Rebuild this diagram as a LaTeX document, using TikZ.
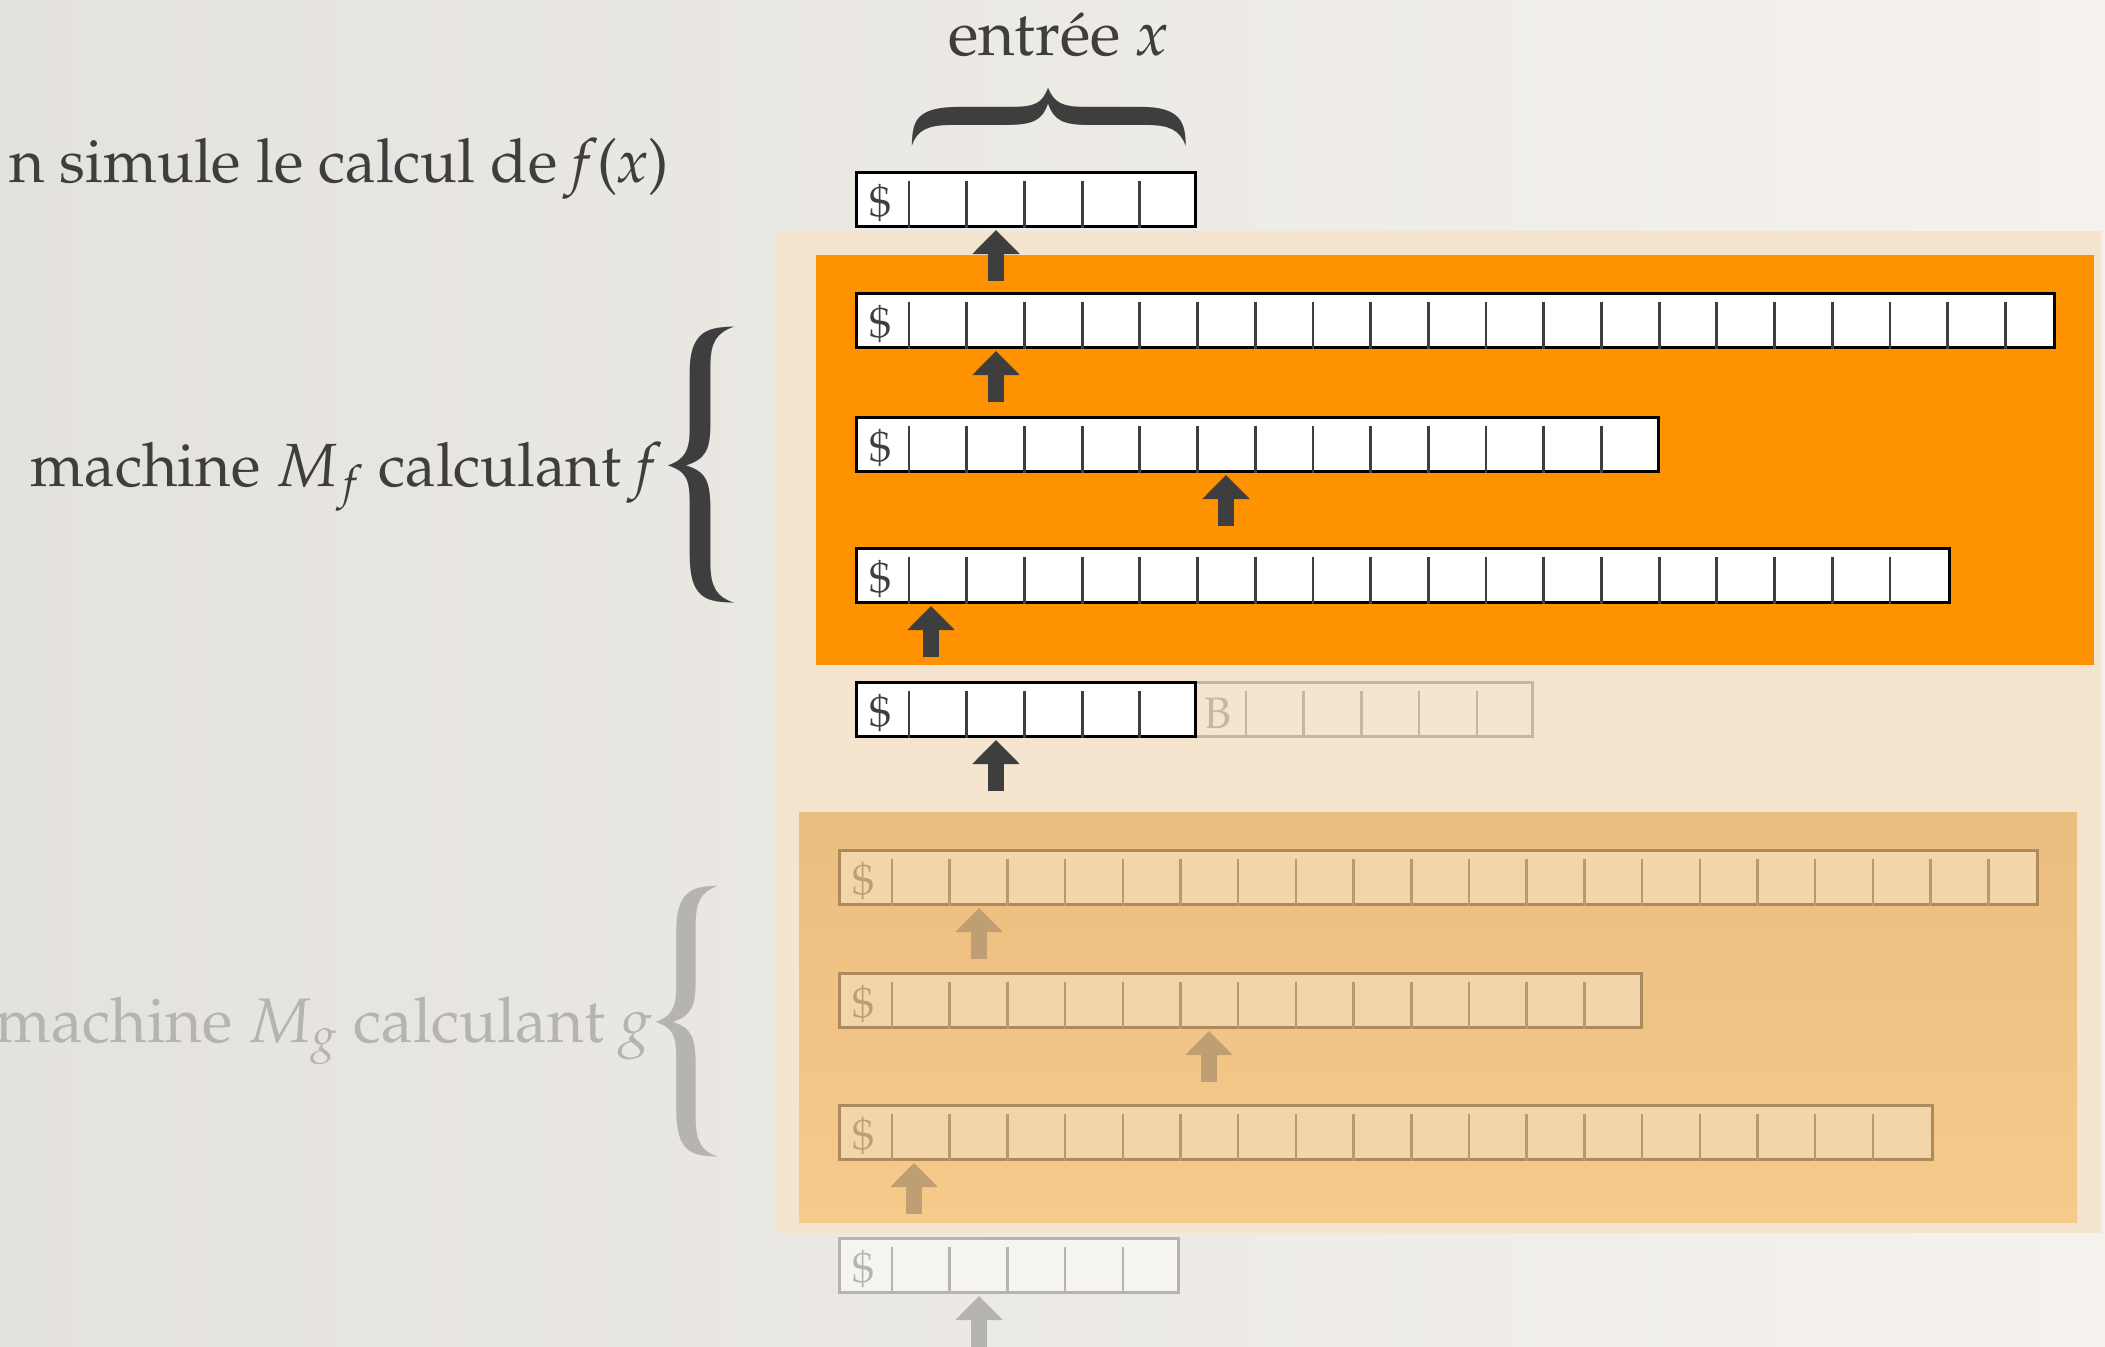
\documentclass[tikz,border=0pt]{standalone}
\usepackage[T1]{fontenc}
\usepackage{mathpazo}
\usepackage{tikz}
\usetikzlibrary{calc,arrows.meta,positioning}
\definecolor{ink}{RGB}{62,62,62}
\definecolor{paperL}{RGB}{228,226,222}
\definecolor{paperR}{RGB}{245,242,237}
\definecolor{peachT}{RGB}{245,229,207}
\definecolor{peachM}{RGB}{229,211,186}
\definecolor{simorange}{RGB}{255,146,0}
\definecolor{fadeT}{RGB}{235,190,127}
\definecolor{fadeB}{RGB}{246,202,138}
\definecolor{fadetape}{RGB}{242,213,168}
\definecolor{fadeline}{RGB}{172,138,94}
\definecolor{fadehead}{RGB}{190,158,114}
\definecolor{ghost}{RGB}{182,180,177}
\definecolor{ghostfill}{RGB}{245,244,241}
\definecolor{blank}{RGB}{196,183,166}
\newcommand\bigfont{\fontsize{61}{68}\selectfont}
\tikzstyle{tapebox}=[draw=black, line width=3pt, fill=white]
\tikzstyle{cellsep}=[draw=ink, line width=2.8pt]
\tikzstyle{dollar}=[text=ink, inner sep=0pt, font=\fontsize{44}{44}\selectfont]
\tikzstyle{tapehead}=[draw=ink, line width=15.5pt, -{Triangle[width=46pt,length=24pt]}]
\tikzstyle{label}=[text=ink, inner sep=0pt, font=\bigfont]
% name, left, top, right, number of cells after the $
\newcommand\tape[5]{%
  \coordinate (#1) at (#2,#3+54);
  \draw[tapebox] (#2,#3) rectangle (#4,#3+54);
  \foreach \k in {1,...,#5}
    \draw[cellsep] ({#2+53+(\k-1)*57.7},#3+8.5) -- ++(0,47.5);
  \node[dollar] (#1-dol) at (#2+24,#3+31) {\$};
}
% head of a tape, x offset from the left end
\newcommand\headunder[2]{\draw[tapehead] ([shift={(#2,55)}]#1) -- ([shift={(#2,4)}]#1);}

\begin{document}
\begin{tikzpicture}[x=1pt,y=-1pt]
  \useasboundingbox (0,0) rectangle (2105,1347);
  \clip (0,0) rectangle (2105,1347);
  \shade[left color=paperL, right color=paperR] (0,0) rectangle (2105,1347);

  % blocks
  \shade[top color=peachT, middle color=peachM, bottom color=peachT] (776,231) rectangle (2101,1232);
  \fill[simorange] (816,255) rectangle (2094,665);
  \shade[top color=fadeT, bottom color=fadeB] (799,812) rectangle (2077,1222);

  % input and M_f
  \tape{tin}{856}{172}{1195}{5}
  \headunder{tin}{140}
  \tape{ta}{856}{293}{2054}{20}
  \headunder{ta}{140}
  \tape{tb}{856}{417}{1658}{13}
  \headunder{tb}{370}
  \tape{tc}{856}{548}{1949}{18}
  \headunder{tc}{75}
  \draw[draw=blank, line width=3pt] (1195,682) rectangle (1532,736);
  \foreach \k in {1,...,5}
    \draw[draw=blank, line width=2.5pt] ({1246+(\k-1)*57.7},690.5) -- ++(0,47.5);
  \node[text=blank, inner sep=0pt, font=\fontsize{44}{44}\selectfont] (blankB) at (1218,713) {B};
  \tape{td}{856}{682}{1195}{5}
  \headunder{td}{140}

  % M_g, faded
  \begin{scope}[tapebox/.style={draw=fadeline, line width=3pt, fill=fadetape},
      cellsep/.style={draw=fadeline!80!fadetape, line width=2.5pt},
      dollar/.style={text=fadehead, inner sep=0pt, font=\fontsize{44}{44}\selectfont},
      tapehead/.style={draw=fadehead, line width=15.5pt, -{Triangle[width=46pt,length=24pt]}}]
    \tape{te}{839}{850}{2037}{20}
    \headunder{te}{140}
    \tape{tf}{839}{973}{1641}{13}
    \headunder{tf}{370}
    \tape{tg}{839}{1105}{1932}{18}
    \headunder{tg}{75}
  \end{scope}
  \begin{scope}[tapebox/.style={draw=ghost, line width=3pt, fill=ghostfill},
      cellsep/.style={draw=ghost, line width=2.5pt},
      dollar/.style={text=ghost, inner sep=0pt, font=\fontsize{44}{44}\selectfont},
      tapehead/.style={draw=ghost, line width=15.5pt, -{Triangle[width=46pt,length=24pt]}}]
    \tape{th}{839}{1238}{1178}{5}
    \headunder{th}{140}
  \end{scope}

  % labels
  \node[label, anchor=base, font=\fontsize{63}{70}\selectfont] (entree) at (1058,55) {entr\'ee \textit{x}};
  \node[text=ink, inner sep=0pt, rotate=-90] (inbrace) at (1051,116) {\resizebox*{84pt}{269pt}{\{}};
  \node[label, anchor=base east] (simule) at (669,182) {n simule le calcul de \textit{f}(\textit{x})};
  \node[label, anchor=base east] (mf) at (662,486) {machine $M_f$ calculant \textit{f}};
  \node[text=ink, inner sep=0pt, anchor=west] (fbrace) at (651,464) {\resizebox*{96pt}{271pt}{\{}};
  \node[label, text=ghost, anchor=base east, font=\fontsize{63}{70}\selectfont] (mg) at (652,1042) {machine $M_g$ calculant \textit{g}};
  \node[text=ghost, inner sep=0pt, anchor=west] (gbrace) at (640,1020) {\resizebox*{90pt}{266pt}{\{}};
\end{tikzpicture}
\end{document}
